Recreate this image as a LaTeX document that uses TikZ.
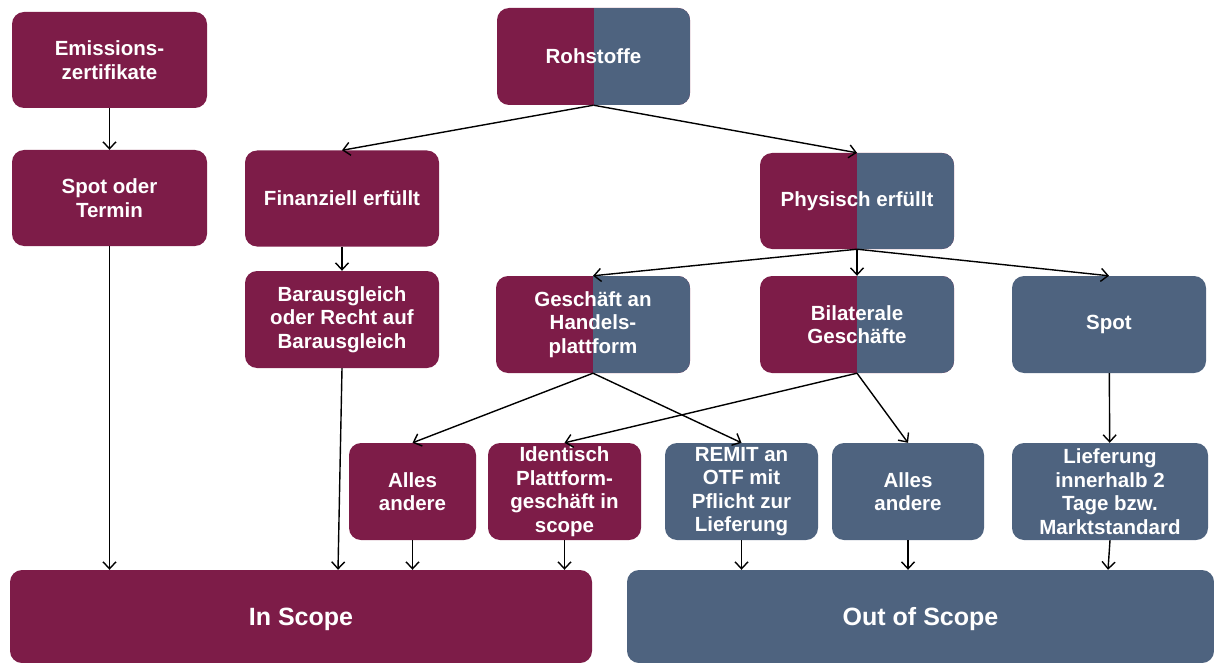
\documentclass[tikz,border=0pt]{standalone}
\usepackage{fontspec}
\setmainfont{Liberation Sans}
\usetikzlibrary{arrows.meta}
\definecolor{weinrot}{RGB}{125,28,72}
\definecolor{graublau}{RGB}{78,99,127}
\begin{document}
\begin{tikzpicture}[x=1pt, y=-1pt,
        box/.style={rounded corners=12pt, minimum width=194pt, minimum height=96pt, align=center,
            text=white, inner sep=2pt, font=\fontsize{20.5}{23.5}\selectfont\bfseries},
        rot/.style={box, fill=weinrot},
        blau/.style={box, fill=graublau},
        halb/.style={box, fill=weinrot, path picture={\fill[graublau, sharp corners] (path picture bounding box.north)
            rectangle (path picture bounding box.south east);}},
        gross/.style={font=\fontsize{25}{28}\selectfont\bfseries, text depth=-3pt},
        pfeil/.style={-{Straight Barb[length=7pt, width=13pt]}, line width=1.4pt}
    ]
        \useasboundingbox (0,0) rectangle (1214,663);

        % Obere Reihe
        \node [rot, minimum width=195pt] (emis) at (109.5,60) {Emissions-\\zertifikate};
        \node [rot, minimum width=195pt] (termin) at (109.5,198) {Spot oder\\Termin};
        \node [halb, minimum width=193pt, minimum height=97pt] (roh) at (593.5,56.5) {Rohstoffe};
        \node [rot] (fin) at (342,198.5) {Finanziell erfüllt};
        \node [halb] (phys) at (857,201) {Physisch erfüllt};

        % Mittlere Reihe
        \node [rot, minimum height=97pt] (bar) at (342,319.5) {Barausgleich\\oder Recht auf\\Barausgleich};
        \node [halb, minimum height=97pt] (gesch) at (593,324.5) {Geschäft an\\Handels-\\plattform};
        \node [halb, minimum height=97pt] (bilat) at (857,324.5) {Bilaterale\\Geschäfte};
        \node [blau, minimum height=97pt] (spot) at (1109,324.5) {Spot};

        % Untere Reihe
        \node [rot, minimum width=127pt, minimum height=97pt] (alles1) at (412.5,491.5) {Alles\\andere};
        \node [rot, minimum width=153pt, minimum height=97pt] (ident) at (564.5,491.5) {Identisch\\Plattform-\\geschäft in\\scope};
        \node [blau, minimum width=153pt, minimum height=97pt] (remit) at (741.5,491.5) {REMIT an\\OTF mit\\Pflicht zur\\Lieferung};
        \node [blau, minimum width=152pt, minimum height=97pt] (alles2) at (908,491.5) {Alles\\andere};
        \node [blau, minimum width=196pt, minimum height=97pt] (liefer) at (1110,491.5) {Lieferung\\innerhalb 2\\Tage bzw.\\Marktstandard};

        % Ergebnis
        \node [rot, gross, minimum width=582pt, minimum height=93pt] (insc) at (301,616.5) {In Scope};
        \node [blau, gross, minimum width=587pt, minimum height=93pt] (outsc) at (920.5,616.5) {Out of Scope};

        % Pfeile
        \draw[pfeil] (emis) -- (termin);
        \draw[pfeil] (roh.south) -- (fin.north);
        \draw[pfeil] (roh.south) -- (phys.north);
        \draw[pfeil] (fin) -- (bar);
        \draw[pfeil] (phys.south) -- (gesch.north);
        \draw[pfeil] (phys.south) -- (bilat.north);
        \draw[pfeil] (phys.south) -- (spot.north);
        \draw[pfeil] (gesch.south) -- (alles1.north);
        \draw[pfeil] (gesch.south) -- (remit.north);
        \draw[pfeil] (bilat.south) -- (ident.north);
        \draw[pfeil] (bilat.south) -- (alles2.north);
        \draw[pfeil] (spot) -- (liefer);
        \draw[pfeil] (termin.south) -- (termin.south |- insc.north);
        \draw[pfeil] (bar.south) -- ([xshift=-4pt]bar.south |- insc.north);
        \draw[pfeil] (alles1.south) -- (alles1.south |- insc.north);
        \draw[pfeil] (ident.south) -- (ident.south |- insc.north);
        \draw[pfeil] (remit.south) -- (remit.south |- outsc.north);
        \draw[pfeil] (alles2.south) -- (alles2.south |- outsc.north);
        \draw[pfeil] (liefer.south) -- ([xshift=-2pt]liefer.south |- outsc.north);
    \end{tikzpicture}
\end{document}
